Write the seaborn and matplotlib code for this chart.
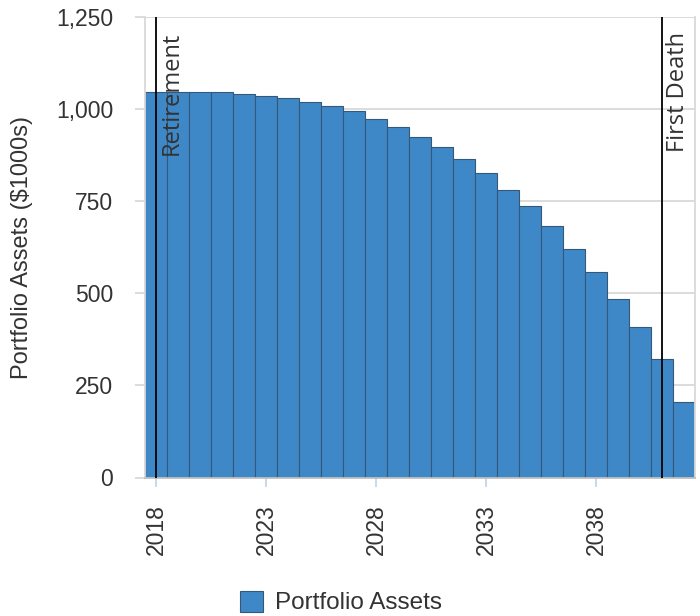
import matplotlib
matplotlib.use("Agg")
import matplotlib.pyplot as plt
import matplotlib.transforms as mtransforms
import seaborn as sns
import pandas as pd

# portfolio values ($1000s)
years = list(range(2018, 2043))
assets = [1047, 1047, 1047, 1046, 1042, 1036, 1031, 1020, 1010, 995,
          974, 952, 924, 897, 864, 826, 782, 737, 683, 622,
          557, 486, 410, 323, 206]
events = ["Retirement", "First Death"]
event_years = [2018, 2041]
tick_years = [2018, 2023, 2028, 2033, 2038]
y_ticks = [0, 250, 500, 750, 1000, 1250]

df = pd.DataFrame({"year": years, "assets": assets})

sns.set_theme(style="white")
plt.rcParams["font.family"] = ["Liberation Sans", "DejaVu Sans"]

bar_color = "#3F88C8"
text_color = "#333333"
grid_color = "#D9D9D9"

fig = plt.figure(figsize=(7, 6.16), dpi=100)
ax = fig.add_axes([145 / 700, 1 - 477.5 / 616, 550 / 700, 460.2 / 616])

sns.barplot(data=df, x="year", y="assets", native_scale=True, width=1,
            color=bar_color, saturation=1, edgecolor="#34587A", linewidth=0.8,
            label="Portfolio Assets", ax=ax, zorder=2)
if ax.get_legend() is not None:
    ax.get_legend().remove()

ax.set_xlim(years[0] - 0.5, years[-1] + 0.5)
ax.set_ylim(0, 1250)
ax.set_yticks(y_ticks)
ax.set_yticklabels([f"{v:,}" for v in y_ticks])
ax.set_xticks(tick_years)
ax.set_xticklabels([str(y) for y in tick_years], rotation=90)

ax.yaxis.grid(True, color=grid_color, linewidth=1.3, zorder=0)
ax.set_axisbelow(True)
ax.spines["top"].set_visible(False)
ax.spines["left"].set_color(grid_color)
ax.spines["right"].set_color(grid_color)
ax.spines["bottom"].set_color("#BFBFBF")
for s in ["left", "right", "bottom"]:
    ax.spines[s].set_linewidth(1.3)
    ax.spines[s].set_zorder(3)

ax.tick_params(axis="y", length=7, width=1.3, color=grid_color, pad=16,
               labelsize=16.5, labelcolor=text_color, left=True)
ax.tick_params(axis="x", length=6.5, width=1.3, color="#C5D5E6", pad=13,
               labelsize=16.5, labelcolor=text_color, bottom=True)

ax.set_xlabel("")
ax.set_ylabel("Portfolio Assets ($1000s)", fontsize=17, color=text_color)
ax.yaxis.set_label_coords(-0.2036, 0.5)

# event markers
trans = mtransforms.blended_transform_factory(ax.transData, ax.transAxes)
for name, yr in zip(events, event_years):
    ax.axvline(yr, color="black", linewidth=1.3, zorder=4)
    ax.annotate(name, xy=(yr, 1), xycoords=trans, xytext=(3, -10.5),
                textcoords="offset points", rotation=90, ha="left", va="top",
                fontsize=17, color=text_color, family=["Open Sans", "DejaVu Sans"],
                zorder=5)

handles, labels = ax.get_legend_handles_labels()
fig.legend(handles[:1], labels[:1], loc="lower center", bbox_to_anchor=(0.487, -0.033),
           frameon=False, fontsize=17.5, handlelength=0.95, handleheight=0.95,
           handletextpad=0.5, labelcolor=text_color)

fig.savefig("out.png", dpi=100)
